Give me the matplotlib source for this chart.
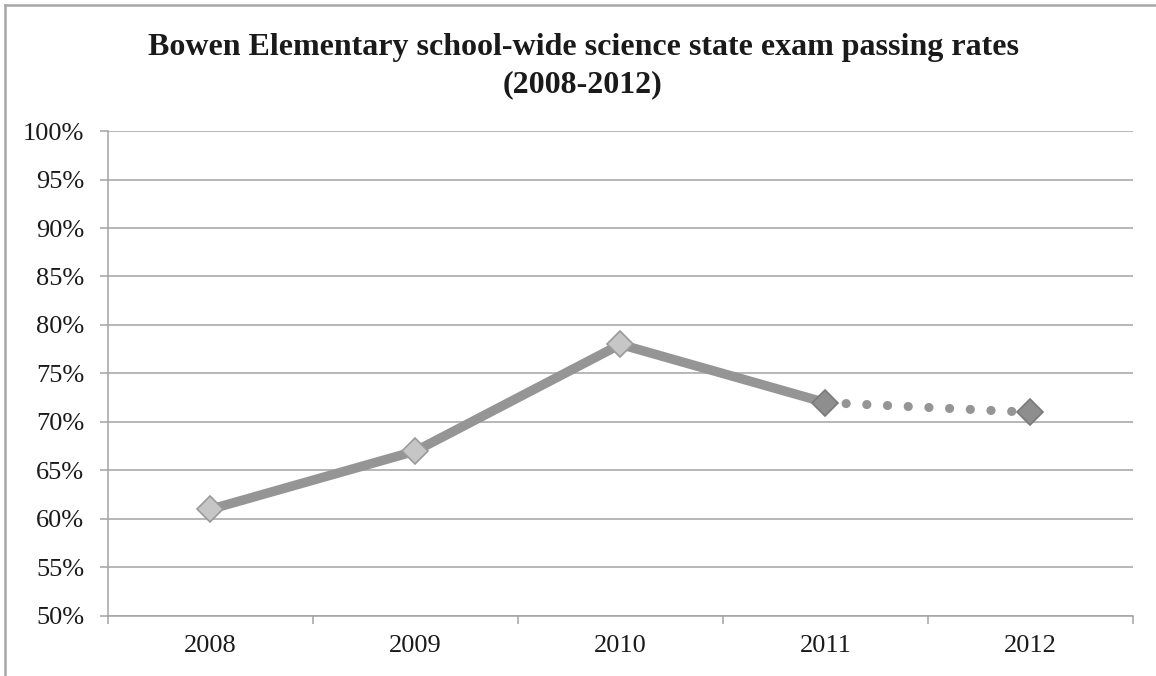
import matplotlib
matplotlib.use('Agg')
import matplotlib.pyplot as plt
import matplotlib.ticker as mticker
from matplotlib.lines import Line2D

# chart data
years = ['2008', '2009', '2010', '2011', '2012']
pass_rates = [61, 67, 78, 72, 71]
title_lines = ['Bowen Elementary school-wide science state exam passing rates',
               '(2008-2012)']

plt.rcParams['font.family'] = ['Liberation Serif', 'DejaVu Serif']

line_col = '#959595'
grid_col = '#a3a3a3'

fig = plt.figure(figsize=(11.56, 6.76), dpi=100)
ax = fig.add_axes([0.0934, 0.0888, 0.8866, 0.7174])

x = list(range(len(years)))

# solid part (actual results) and dotted part (projection)
ax.plot(x[:4], pass_rates[:4], color=line_col, lw=6.8, solid_capstyle='round',
        solid_joinstyle='round', zorder=3)
ax.plot(x[3:], pass_rates[3:], color=line_col, lw=6.6,
        linestyle=(0, (0.01, 2.25)), dash_capstyle='round', zorder=3)

# markers
ax.plot(x[:3], pass_rates[:3], linestyle='none', marker='D', ms=13.5,
        mfc='#c6c6c6', mec='#9a9a9a', mew=1.2, zorder=4)
ax.plot(x[3:], pass_rates[3:], linestyle='none', marker='D', ms=13.5,
        mfc='#8e8e8e', mec='#7a7a7a', mew=1.2, zorder=4)

ax.set_xlim(-0.5, len(years) - 0.5)
ax.set_ylim(50, 100)
ax.set_yticks(range(50, 101, 5))
ax.yaxis.set_major_formatter(mticker.FuncFormatter(lambda v, p: f'{int(v)}%'))
ax.set_xticks(x)
ax.set_xticklabels(years)
ax.xaxis.set_minor_locator(mticker.FixedLocator([i - 0.5 for i in range(len(years) + 1)]))

ax.grid(axis='y', color=grid_col, lw=1.1)
ax.set_axisbelow(True)
for side in ['top', 'right']:
    ax.spines[side].set_visible(False)
ax.spines['left'].set_color(grid_col)
ax.spines['bottom'].set_color(grid_col)
ax.spines['left'].set_linewidth(1.1)
ax.spines['bottom'].set_linewidth(1.1)

ax.tick_params(axis='y', which='major', length=6, width=1.1, color=grid_col,
               labelsize=19, pad=11, labelcolor='#1a1a1a')
ax.tick_params(axis='x', which='major', length=0, labelsize=19, pad=14,
               labelcolor='#1a1a1a')
ax.tick_params(axis='x', which='minor', length=6, width=1.1, color=grid_col)

fig.text(583 / 1156, 1 - 48 / 676, title_lines[0], ha='center', va='center', fontsize=23,
         fontweight='bold', color='#1a1a1a')
fig.text(583 / 1156, 1 - 85 / 676, title_lines[1], ha='center', va='center', fontsize=23,
         fontweight='bold', color='#1a1a1a')

# outer frame (only top and left visible in the crop)
fig.add_artist(Line2D([0.0043, 1.0], [0.9926, 0.9926], transform=fig.transFigure,
                      color='#a8a8a8', lw=1.8))
fig.add_artist(Line2D([0.0043, 0.0043], [0.0, 0.9926], transform=fig.transFigure,
                      color='#a8a8a8', lw=1.8))

fig.savefig('out.png', dpi=100)
